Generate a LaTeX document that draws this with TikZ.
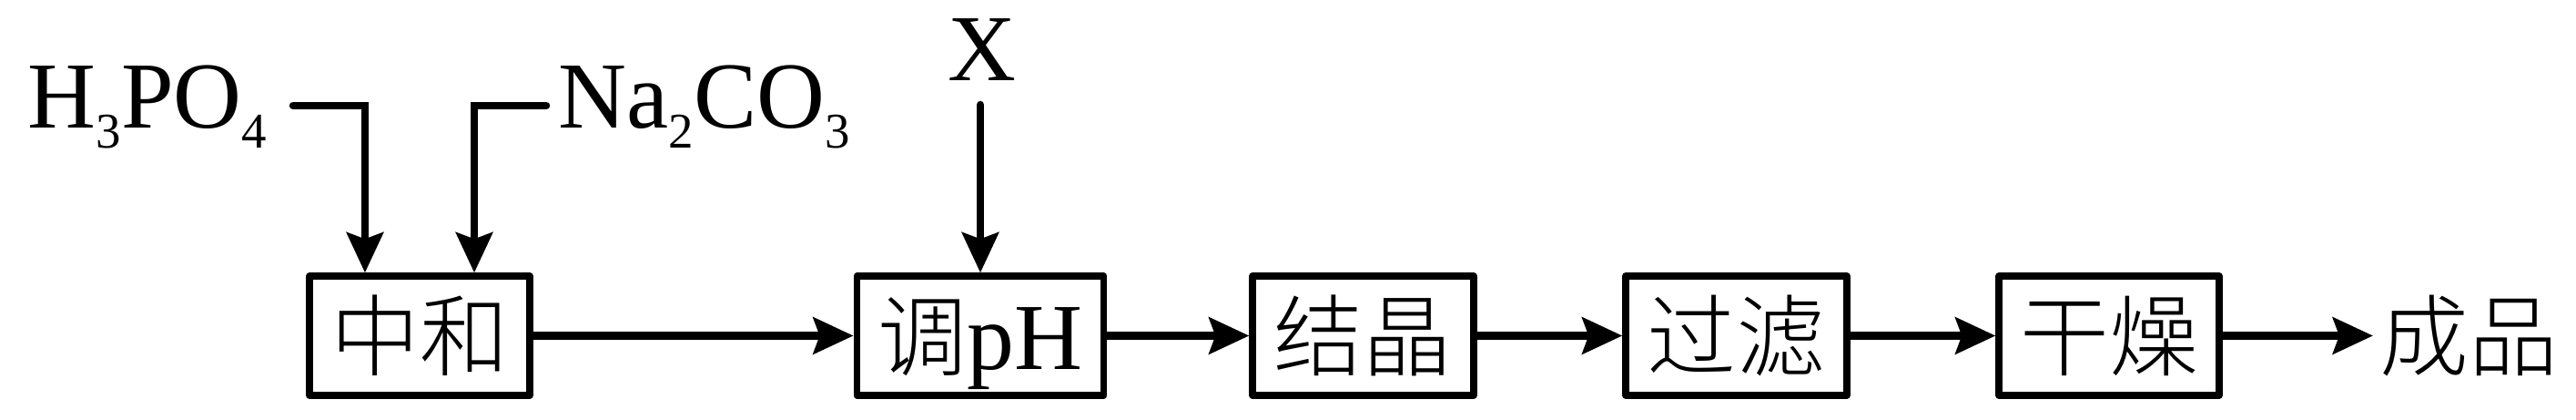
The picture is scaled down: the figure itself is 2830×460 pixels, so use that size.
\documentclass[tikz,border=0pt]{standalone}
\usepackage{fontspec}
\setmainfont{Liberation Serif}
\newfontfamily\cjk{Noto Sans CJK SC Light}
\usetikzlibrary{arrows.meta}
\newcommand\chemsub[1]{\raisebox{-6.5pt}{\fontsize{15.6}{16}\selectfont #1}}
\newcommand\zhtxt[1]{{\fontsize{27.8}{32}\cjk #1}}
\begin{document}
\begin{tikzpicture}[x=0.01cm,y=-0.01cm,
  every node/.style={inner sep=0pt, font=\fontsize{29.5}{34}\selectfont},
  procbox/.style={draw, line width=0.072cm, line join=round, minimum height=1.31cm, text height=0.73cm, text depth=0pt},
  flow/.style={line width=0.085cm, -{Stealth[length=0.44cm,width=0.40cm,inset=0.07cm]}},
  feed/.style={flow, line cap=round}]
\useasboundingbox[fill=white] (0,0) rectangle (2830,460);

% process boxes
\node[procbox, minimum width=2.42cm]  (zh) at (461,368.5)    {\zhtxt{中和}};
\node[procbox, minimum width=2.715cm] (ph) at (1077,368.5)   {\zhtxt{调}pH};
\node[procbox, minimum width=2.43cm]  (jj) at (1497.5,368.5) {\zhtxt{结晶}};
\node[procbox, minimum width=2.43cm]  (gl) at (1907.5,368.5) {\zhtxt{过滤}};
\node[procbox, minimum width=2.42cm]  (gz) at (2317,368.5)   {\zhtxt{干燥}};
\node[anchor=base west] (cp) at (2614,405) {\zhtxt{成品}};

% feed labels
\node[anchor=base west] (hp) at (30,140)  {H\chemsub{3}PO\chemsub{4}};
\node[anchor=base west] (na) at (613,140) {Na\chemsub{2}CO\chemsub{3}};
\node[anchor=base] (xx) at (1078.5,88) {X};

\coordinate (ha) at (322,116);
\coordinate (nb) at (600,116);
\coordinate (xa) at (1077,115);

% feed connectors
\draw[feed] (ha) -| ([xshift=-0.6cm]zh.north);
\draw[feed] (nb) -| ([xshift=0.6cm]zh.north);
\draw[feed] (xa) -- (ph.north);

% main flow
\draw[flow] (zh.east) -- (ph.west);
\draw[flow] (ph.east) -- (jj.west);
\draw[flow] (jj.east) -- (gl.west);
\draw[flow] (gl.east) -- (gz.west);
\draw[flow, shorten >=0.07cm] (gz.east) -- (gz.east -| cp.west);
\end{tikzpicture}
\end{document}
